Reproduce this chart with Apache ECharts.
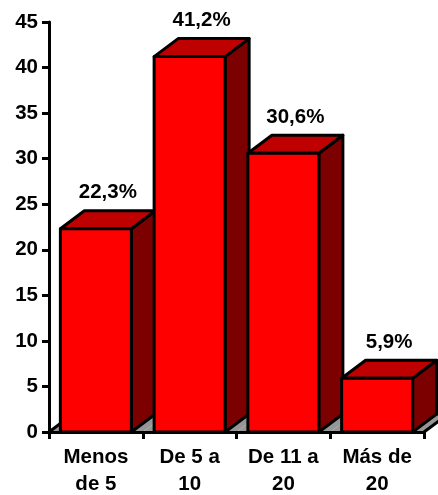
<!DOCTYPE html>
<html><head><meta charset="utf-8">
<style>html,body{margin:0;padding:0;background:#fff}#c{width:438px;height:495px}</style>
<script src="https://cdn.jsdelivr.net/npm/echarts@6/dist/echarts.min.js"></script>
</head><body><div id="c"></div>
<script>
const categories = ['Menos\nde 5', 'De 5 a\n10', 'De 11 a\n20', 'Más de\n20'];
const values = [22.3, 41.2, 30.6, 5.9];
const valueLabels = ['22,3%', '41,2%', '30,6%', '5,9%'];
const yMin = 0, yMax = 45, yStep = 5;

const DX = 24, DY = 18, BAR = 71, LW = 3;
const FONT = '"Liberation Sans", Arial, sans-serif';
const stroke = { stroke: '#000', lineWidth: LW, lineJoin: 'round' };
const chart = echarts.init(document.getElementById('c'), null, { renderer: 'canvas' });

function poly(points, fill) {
  return { type: 'polygon', shape: { points }, style: Object.assign({ fill }, stroke) };
}
function edge(points) {
  return { type: 'polyline', shape: { points }, style: Object.assign({ fill: 'none' }, stroke) };
}

chart.setOption({
  animation: false,
  grid: { left: 49, right: 14, top: 22, bottom: 63, outerBoundsMode: 'none' },
  xAxis: {
    type: 'category', data: categories, z: 6,
    axisLine: { show: true, lineStyle: { color: '#000', width: LW } },
    axisTick: { show: true, length: 7, lineStyle: { color: '#000', width: LW } },
    axisLabel: { color: '#000', fontFamily: FONT, fontWeight: 'bold', fontSize: 20.5, lineHeight: 27, margin: 12, interval: 0 }
  },
  yAxis: {
    type: 'value', min: yMin, max: yMax, interval: yStep, z: 6,
    splitLine: { show: false },
    axisLine: { show: true, lineStyle: { color: '#000', width: LW } },
    axisTick: { show: true, length: 7, lineStyle: { color: '#000', width: LW } },
    axisLabel: { color: '#000', fontFamily: FONT, fontWeight: 'bold', fontSize: 20.5, margin: 11 }
  },
  series: [
    {
      type: 'custom', z: 1, clip: false, silent: true,
      data: categories.map((c, i) => [i]),
      encode: { x: 0 },
      renderItem(params, api) {
        const p = api.coord([api.value(0), 0]);
        const w = api.size([1, 0])[0];
        const l = p[0] - w / 2, r = p[0] + w / 2, b = p[1];
        const children = [
          { type: 'polygon', shape: { points: [[l, b], [r, b], [r + DX, b - DY], [l + DX, b - DY]] }, style: { fill: '#969696' } },
          edge([[l + DX, b - DY], [r + DX, b - DY]])
        ];
        if (params.dataIndex === 0) children.push(edge([[l, b], [l + DX, b - DY]]));
        if (params.dataIndex === categories.length - 1) children.push(edge([[r, b], [r + DX, b - DY]]));
        return { type: 'group', children };
      }
    },
    {
      type: 'custom', z: 2, clip: false, silent: true,
      data: values.map((v, i) => [i, v]),
      encode: { x: 0, y: 1 },
      renderItem(params, api) {
        const i = api.value(0), v = api.value(1);
        const top = api.coord([i, v]), base = api.coord([i, 0]);
        const l = top[0] - BAR / 2, r = top[0] + BAR / 2, t = top[1], b = base[1];
        return {
          type: 'group',
          children: [
            poly([[r, t], [r + DX, t - DY], [r + DX, b - DY], [r, b]], '#7c0000'),
            poly([[l, t], [l + DX, t - DY], [r + DX, t - DY], [r, t]], '#bf0000'),
            poly([[l, t], [r, t], [r, b], [l, b]], '#ff0000'),
            {
              type: 'text',
              style: {
                text: valueLabels[params.dataIndex], x: top[0] + DX / 2, y: t - DY - 18,
                fill: '#000', font: 'bold 20.5px ' + FONT, align: 'center', verticalAlign: 'middle'
              }
            }
          ]
        };
      }
    }
  ]
});
</script></body></html>
